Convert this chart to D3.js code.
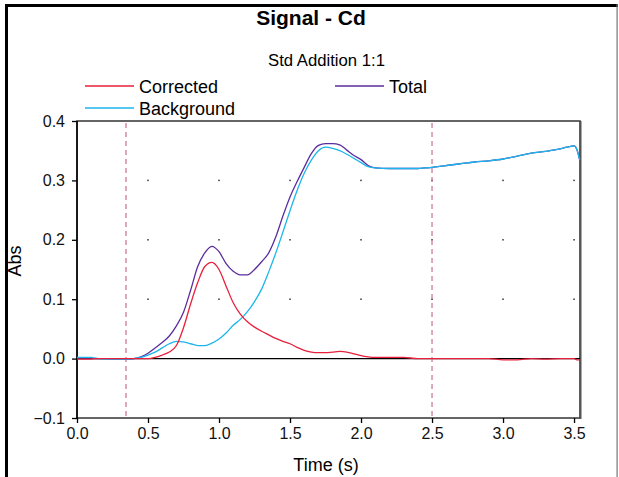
<!DOCTYPE html>
<html><head><meta charset="utf-8">
<script src="https://cdn.jsdelivr.net/npm/d3@7"></script>
<style>body{margin:0;background:#fff}svg{display:block;font-family:"Liberation Sans",Arial,sans-serif}</style>
</head><body><svg id="c" width="619" height="477"></svg>
<script>
const time = [0,0.05,0.10,0.12,0.15,0.20,0.25,0.30,0.35,0.40,0.45,0.50,0.55,0.60,0.65,0.70,0.75,0.80,0.85,0.90,0.95,1.00,1.05,1.10,1.15,1.20,1.25,1.30,1.35,1.40,1.45,1.50,1.55,1.60,1.65,1.70,1.75,1.80,1.85,1.90,1.95,2.00,2.05,2.10,2.20,2.30,2.40,2.45,2.50,2.60,2.70,2.80,2.90,3.00,3.10,3.20,3.30,3.40,3.45,3.50,3.52,3.54];
const total = [0.001,0.001,0.001,0,0,0,-0.001,-0.001,-0.001,0,0.003,0.009,0.018,0.027,0.038,0.055,0.078,0.115,0.155,0.178,0.189,0.180,0.160,0.147,0.141,0.141,0.150,0.163,0.178,0.205,0.240,0.272,0.298,0.322,0.345,0.359,0.362,0.362,0.360,0.351,0.342,0.335,0.325,0.321,0.320,0.320,0.320,0.321,0.322,0.325,0.328,0.331,0.333,0.336,0.341,0.346,0.349,0.353,0.356,0.358,0.352,0.334];
const background = [0.002,0.002,0.002,0.001,0,-0.001,-0.001,-0.001,-0.001,0,0.002,0.006,0.011,0.018,0.025,0.029,0.028,0.025,0.022,0.022,0.026,0.033,0.043,0.056,0.066,0.079,0.096,0.117,0.146,0.178,0.213,0.249,0.283,0.312,0.334,0.350,0.356,0.354,0.350,0.344,0.337,0.330,0.323,0.321,0.320,0.320,0.320,0.321,0.322,0.325,0.328,0.331,0.333,0.336,0.341,0.346,0.349,0.353,0.356,0.358,0.352,0.334];
const corrected = [-0.001,-0.001,-0.001,0,0,0,0,0,0,0,0,0,0.002,0.006,0.011,0.022,0.052,0.092,0.128,0.155,0.162,0.150,0.122,0.094,0.075,0.062,0.053,0.046,0.040,0.034,0.029,0.025,0.019,0.014,0.011,0.010,0.010,0.011,0.012,0.011,0.008,0.005,0.003,0.002,0.002,0.002,0,0,0,0,0,0,0,-0.002,-0.002,0,-0.001,0,0,0,-0.002,-0.002];
const xTicks = [0,0.5,1.0,1.5,2.0,2.5,3.0,3.5];
const yTicks = [-0.1,0,0.1,0.2,0.3,0.4];
const markers = [0.345,2.5];
const seriesNames = ["Corrected","Total","Background"];
const seriesColors = ["#e8203c","#5a2d9e","#1cb6ec"];

const svg = d3.select("#c");
const L=77,R=580,T=121,B=418;
const x = d3.scaleLinear().domain([0,3.542]).range([L,R]);
const y = d3.scaleLinear().domain([-0.1,0.4]).range([B,T]);

// outer frame
svg.append("rect").attr("x",5).attr("y",4).attr("width",613).attr("height",3).attr("fill","#000");
svg.append("rect").attr("x",5).attr("y",4).attr("width",3).attr("height",473).attr("fill","#000");
svg.append("rect").attr("x",616.5).attr("y",4).attr("width",1.2).attr("height",473).attr("fill","#777");

// titles
svg.append("text").attr("x",311).attr("y",25).attr("text-anchor","middle").attr("font-size",21).attr("font-weight","bold").text("Signal - Cd");
svg.append("text").attr("x",326.5).attr("y",65.5).attr("text-anchor","middle").attr("font-size",16.7).text("Std Addition 1:1");

// legend
const leg = [{n:seriesNames[0],c:seriesColors[0],x:85,y:86},{n:seriesNames[1],c:seriesColors[1],x:335,y:86},{n:seriesNames[2],c:seriesColors[2],x:85,y:108}];
leg.forEach(d=>{
  svg.append("line").attr("x1",d.x).attr("x2",d.x+49).attr("y1",d.y).attr("y2",d.y).attr("stroke",d.c).attr("stroke-width",1.3);
  svg.append("text").attr("x",d.x+54).attr("y",d.y+6.5).attr("font-size",18).text(d.n);
});

// plot box
svg.append("rect").attr("x",L).attr("y",T).attr("width",R-L).attr("height",B-T).attr("fill","none").attr("stroke","#333").attr("stroke-width",1.5);
svg.append("line").attr("x1",R+0.5).attr("x2",R+0.5).attr("y1",T).attr("y2",B+1).attr("stroke","#555").attr("stroke-width",2);

// grid dots
xTicks.filter(v=>v>0).forEach(xv=>{
  [0.1,0.2,0.3].forEach(yv=>{
    svg.append("rect").attr("x",x(xv)-0.75).attr("y",y(yv)-0.75).attr("width",1.5).attr("height",1.5).attr("fill","#333");
  });
});

// axes
const xAxis = svg.append("g").attr("transform",`translate(0,${B})`).call(d3.axisBottom(x).tickValues(xTicks).tickFormat(d3.format(".1f")).tickSize(5).tickPadding(5));
const yAxis = svg.append("g").attr("transform",`translate(${L},0)`).call(d3.axisLeft(y).tickValues(yTicks).tickFormat(d3.format(".1f")).tickSize(5).tickPadding(7));
[xAxis,yAxis].forEach(g=>{
  g.select(".domain").remove();
  g.selectAll("line").attr("stroke","#000").attr("stroke-width",1.3);
  g.selectAll("text").attr("font-size",16).attr("fill","#111").attr("font-family","Liberation Sans, Arial, sans-serif");
});
svg.append("line").attr("x1",L).attr("x2",L).attr("y1",T).attr("y2",B).attr("stroke","#000").attr("stroke-width",1.5);
// zero line
svg.append("line").attr("x1",L).attr("x2",R).attr("y1",y(0)).attr("y2",y(0)).attr("stroke","#000").attr("stroke-width",1.3);

// axis titles
svg.append("text").attr("x",326).attr("y",471).attr("text-anchor","middle").attr("font-size",18).text("Time (s)");
svg.append("text").attr("transform","translate(21,261) rotate(-90)").attr("text-anchor","middle").attr("font-size",18).text("Abs");

// dashed markers
markers.forEach(m=>{
  svg.append("line").attr("x1",x(m)).attr("x2",x(m)).attr("y1",T+2).attr("y2",B).attr("stroke","#cc7b98").attr("stroke-width",1.3).attr("stroke-dasharray","5,4");
});

// series
const line = d3.line().x((d,i)=>x(time[i])).y(d=>y(d)).curve(d3.curveMonotoneX);
[[total,1],[background,2],[corrected,0]].forEach(([arr,k])=>{
  svg.append("path").datum(arr).attr("d",line).attr("fill","none").attr("stroke",seriesColors[k]).attr("stroke-width",1.3);
});
</script></body></html>
